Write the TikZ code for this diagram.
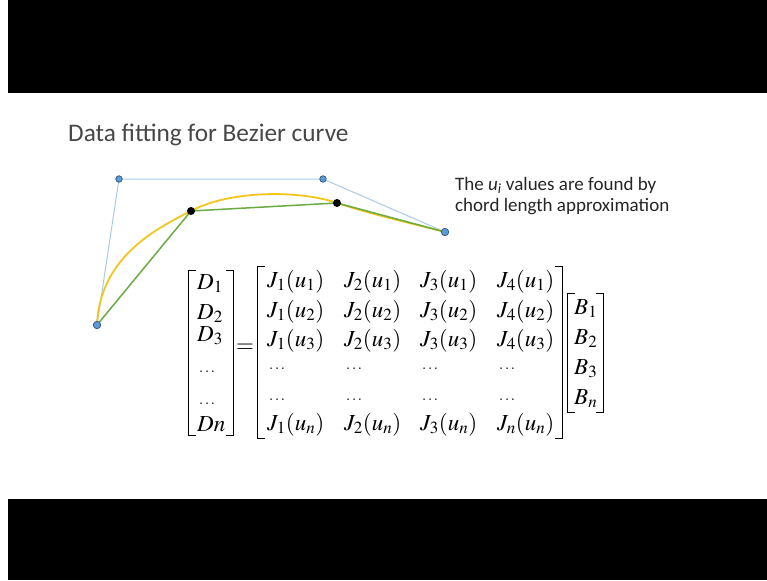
\documentclass[tikz,border=0pt]{standalone}
\usepackage{mathptmx}
\usepackage[no-math]{fontspec}
\newfontfamily\slidefont{Carlito}
\definecolor{ctrlblue}{RGB}{91,155,213}
\definecolor{polyblue}{RGB}{170,203,233}
\definecolor{fitgreen}{RGB}{106,172,66}
\definecolor{curveyellow}{RGB}{242,198,30}

\begin{document}
\begin{tikzpicture}[x=1pt, y=-1pt,
  ctrl/.style={circle, fill=ctrlblue, draw=ctrlblue!55!black, line width=0.7pt, inner sep=0pt, minimum size=7.5pt},
  datapt/.style={circle, fill=black, inner sep=0pt, minimum size=8pt},
  brk/.style={line width=1pt, line cap=rect},
  ent/.style={anchor=base west, inner sep=0pt, font=\fontsize{23}{23}\selectfont},
  gap/.style={anchor=base west, inner sep=0pt, font=\fontsize{15}{15}\selectfont}]
\useasboundingbox (0,0) rectangle (767,580);
\fill[white] (0,0) rectangle (767,580);
\fill[black] (8,0) rectangle (767,93);
\fill[black] (8,499) rectangle (767,580);

\node[anchor=base west, inner sep=0pt, text=black!72, font=\slidefont\fontsize{25.3}{25.3}\selectfont] (title) at (68,142) {Data fitting for Bezier curve};
\node[anchor=base west, inner sep=0pt, text=black!85, font=\slidefont\fontsize{19}{19}\selectfont] (note1) at (455,190) {The \textit{u}\textsubscript{\textit{i}} values are found by};
\node[anchor=base west, inner sep=0pt, text=black!85, font=\slidefont\fontsize{19}{19}\selectfont] (note2) at (455,211) {chord length approximation};

% points of the curve
\coordinate (d0) at (97,325);
\coordinate (d1) at (191,211);
\coordinate (d2) at (337,203);
\coordinate (d3) at (445,232);
\coordinate (c1) at (119,179);
\coordinate (c2) at (323,179);

\draw[polyblue, line width=1pt] (d0) -- (c1) -- (c2) -- (d3);
\draw[curveyellow, line width=1.8pt] (d0) .. controls (100,255) and (160,227) .. (d1)
  .. controls (230,190) and (300,190) .. (d2)
  .. controls (374,215) and (410,223) .. (d3);
\draw[fitgreen, line width=1.5pt] (d0) -- (d1) -- (d2) -- (d3);

\node[ctrl] (p0) at (d0) {};
\node[ctrl, minimum size=6.5pt] (p1) at (c1) {};
\node[ctrl, minimum size=6.5pt] (p2) at (c2) {};
\node[ctrl] (p3) at (d3) {};
\node[datapt] (q1) at (d1) {};
\node[datapt] (q2) at (d2) {};

% D vector
\draw[brk] (195,270) -- (188,270) -- (188,435) -- (195,435);
\draw[brk] (226,270) -- (233,270) -- (233,435) -- (226,435);
\foreach \i/\y/\t in {1/289/D_1, 2/319/D_2, 3/341/D_3, 6/431/Dn}
  \node[ent] (dv\i) at (197,\y) {$\t$};
\foreach \i/\y in {4/372, 5/404}
  \node[gap] (dv\i) at (199,\y) {$\ldots$};
\node[ent, anchor=center] (eq) at (245,348) {$=$};

% J matrix
\draw[brk] (264,266) -- (257,266) -- (257,438) -- (264,438);
\draw[brk] (555,266) -- (562,266) -- (562,438) -- (555,438);
\foreach \r/\y/\u in {1/287/u_1, 2/317/u_2, 3/346/u_3, 6/430/u_n} {
  \node[ent] (j\r a) at (267,\y) {$J_1(\u)$};
  \node[ent] (j\r b) at (344,\y) {$J_2(\u)$};
  \node[ent] (j\r c) at (420,\y) {$J_3(\u)$};
}
\foreach \r/\y/\u in {1/287/u_1, 2/317/u_2, 3/346/u_3}
  \node[ent] (j\r d) at (497,\y) {$J_4(\u)$};
\node[ent] (j6d) at (497,430) {$J_n(u_n)$};
\foreach \r/\y in {4/369, 5/400}
  \foreach \c/\x in {a/269, b/346, c/422, d/499}
    \node[gap] (j\r\c) at (\x,\y) {$\ldots$};

% B vector
\draw[brk] (574,293) -- (567,293) -- (567,412) -- (574,412);
\draw[brk] (596,293) -- (603,293) -- (603,412) -- (596,412);
\foreach \i/\y/\t in {1/314/B_1, 2/344/B_2, 3/374/B_3, 4/404/B_n}
  \node[ent] (bv\i) at (574,\y) {$\t$};
\end{tikzpicture}
\end{document}
